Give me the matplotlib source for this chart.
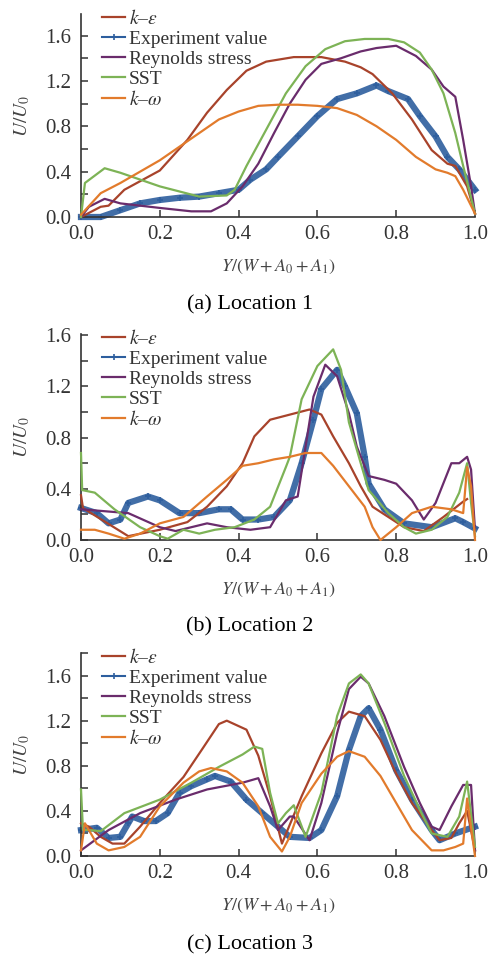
import matplotlib
matplotlib.use("Agg")
import matplotlib.pyplot as plt
from matplotlib.lines import Line2D
from matplotlib.ticker import MultipleLocator

plt.rcParams.update({
    "font.family": "serif",
    "font.serif": ["Liberation Serif", "DejaVu Serif"],
    "mathtext.fontset": "stix",
})

C_KE = "#A8432B"
C_EXP = "#2D5E9E"
C_RS = "#6A2C6C"
C_SST = "#7DB356"
C_KW = "#E27B2C"

# ── Location 1 ────────────────────────────────────────────────────────────────
A_KE_X = [0, 0.05, 0.07, 0.11, 0.2, 0.27, 0.32, 0.37, 0.42, 0.47, 0.54, 0.61, 0.67, 0.71,
          0.74, 0.79, 0.84, 0.89, 0.93, 0.95, 0.98, 1.0]
A_KE_Y = [0, 0.09, 0.10, 0.24, 0.41, 0.68, 0.92, 1.12, 1.29, 1.37, 1.41, 1.41, 1.37, 1.32,
          1.26, 1.09, 0.86, 0.59, 0.47, 0.45, 0.27, 0.03]
A_EXP_X = [0, 0.05, 0.1, 0.15, 0.2, 0.25, 0.3, 0.35, 0.4, 0.43, 0.47, 0.5, 0.55, 0.6, 0.65,
           0.7, 0.75, 0.78, 0.83, 0.86, 0.9, 0.93, 0.96, 1.0]
A_EXP_Y = [0, 0.0, 0.06, 0.12, 0.15, 0.17, 0.18, 0.21, 0.24, 0.33, 0.42, 0.53, 0.71, 0.89,
           1.04, 1.09, 1.16, 1.11, 1.04, 0.89, 0.71, 0.53, 0.42, 0.24]
A_RS_X = [0, 0.02, 0.06, 0.1, 0.2, 0.28, 0.33, 0.37, 0.41, 0.45, 0.49, 0.53, 0.57, 0.61,
          0.66, 0.71, 0.75, 0.8, 0.85, 0.89, 0.92, 0.95, 0.97, 0.99, 1.0]
A_RS_Y = [0, 0.09, 0.16, 0.12, 0.08, 0.05, 0.05, 0.12, 0.27, 0.47, 0.74, 1.0, 1.21, 1.35,
          1.40, 1.46, 1.49, 1.51, 1.42, 1.30, 1.15, 1.06, 0.68, 0.27, 0.03]
A_SST_X = [0, 0.01, 0.06, 0.1, 0.2, 0.3, 0.37, 0.39, 0.42, 0.47, 0.52, 0.57, 0.62, 0.67,
           0.72, 0.78, 0.82, 0.86, 0.89, 0.92, 0.95, 0.97, 1.0]
A_SST_Y = [0, 0.30, 0.43, 0.39, 0.27, 0.18, 0.19, 0.24, 0.45, 0.77, 1.09, 1.33, 1.48, 1.55,
           1.57, 1.57, 1.54, 1.45, 1.30, 1.09, 0.74, 0.45, 0.03]
A_KW_X = [0, 0.05, 0.1, 0.2, 0.25, 0.3, 0.35, 0.4, 0.45, 0.5, 0.55, 0.6, 0.65, 0.7, 0.75,
          0.8, 0.85, 0.9, 0.93, 0.95, 0.97, 1.0]
A_KW_Y = [0.02, 0.21, 0.30, 0.50, 0.62, 0.74, 0.86, 0.93, 0.98, 0.99, 0.99, 0.98, 0.96,
          0.90, 0.80, 0.68, 0.53, 0.42, 0.39, 0.36, 0.24, 0.03]

# ── Location 2 ────────────────────────────────────────────────────────────────
B_KE_X = [0, 0.005, 0.01, 0.12, 0.2, 0.27, 0.32, 0.37, 0.41, 0.44, 0.48, 0.53, 0.58, 0.61,
          0.64, 0.68, 0.71, 0.74, 0.78, 0.82, 0.87, 0.92, 0.97, 0.98]
B_KE_Y = [0.35, 0.25, 0.24, 0.03, 0.08, 0.14, 0.26, 0.42, 0.60, 0.81, 0.94, 0.98, 1.02,
          0.98, 0.81, 0.60, 0.42, 0.26, 0.18, 0.10, 0.07, 0.18, 0.30, 0.32]
B_EXP_X = [0, 0.04, 0.07, 0.1, 0.12, 0.17, 0.2, 0.25, 0.3, 0.35, 0.38, 0.41, 0.45, 0.49,
           0.53, 0.56, 0.59, 0.61, 0.65, 0.67, 0.7, 0.72, 0.73, 0.77, 0.82, 0.89, 0.95,
           0.97, 1.0]
B_EXP_Y = [0.25, 0.21, 0.13, 0.16, 0.29, 0.34, 0.31, 0.21, 0.21, 0.24, 0.24, 0.16, 0.16,
           0.18, 0.31, 0.60, 0.94, 1.18, 1.33, 1.20, 0.99, 0.65, 0.44, 0.24, 0.13, 0.10,
           0.17, 0.14, 0.09]
B_RS_X = [0, 0.12, 0.2, 0.24, 0.32, 0.37, 0.43, 0.48, 0.52, 0.55, 0.57, 0.59, 0.62, 0.65,
          0.68, 0.7, 0.73, 0.77, 0.8, 0.84, 0.87, 0.9, 0.94, 0.96, 0.98, 0.99, 1.0]
B_RS_Y = [0.24, 0.21, 0.10, 0.07, 0.13, 0.10, 0.08, 0.10, 0.31, 0.34, 0.73, 1.12, 1.37,
          1.28, 0.99, 0.73, 0.50, 0.47, 0.44, 0.31, 0.16, 0.29, 0.60, 0.60, 0.65, 0.55, 0.08]
B_SST_X = [0, 0.003, 0.035, 0.085, 0.15, 0.2, 0.22, 0.26, 0.3, 0.34, 0.39, 0.44, 0.48,
           0.52, 0.53, 0.56, 0.6, 0.64, 0.66, 0.68, 0.71, 0.73, 0.78, 0.82, 0.85, 0.89,
           0.93, 0.96, 0.98, 0.99, 1.0]
B_SST_Y = [0.68, 0.39, 0.37, 0.24, 0.10, 0.03, 0.01, 0.08, 0.05, 0.08, 0.10, 0.16, 0.26,
           0.57, 0.65, 1.10, 1.36, 1.49, 1.33, 0.92, 0.60, 0.39, 0.21, 0.10, 0.05, 0.08,
           0.18, 0.37, 0.60, 0.29, 0.03]
B_KW_X = [0, 0.035, 0.07, 0.11, 0.15, 0.2, 0.26, 0.32, 0.37, 0.41, 0.45, 0.49, 0.53, 0.57,
          0.61, 0.64, 0.68, 0.72, 0.74, 0.76, 0.8, 0.84, 0.89, 0.94, 0.97, 0.98, 0.99, 1.0]
B_KW_Y = [0.08, 0.08, 0.05, 0.01, 0.05, 0.13, 0.18, 0.34, 0.47, 0.58, 0.60, 0.63, 0.65,
          0.68, 0.68, 0.58, 0.42, 0.26, 0.10, 0.0, 0.10, 0.21, 0.26, 0.24, 0.21, 0.57,
          0.42, 0.0]

# ── Location 3 ────────────────────────────────────────────────────────────────
C_KE_X = [0, 0.02, 0.05, 0.08, 0.11, 0.15, 0.2, 0.26, 0.31, 0.35, 0.37, 0.42, 0.45, 0.48,
          0.51, 0.56, 0.61, 0.65, 0.68, 0.72, 0.76, 0.8, 0.84, 0.89, 0.91, 0.94, 0.96,
          0.98, 1.0]
C_KE_Y = [0.29, 0.26, 0.17, 0.11, 0.11, 0.26, 0.47, 0.70, 0.96, 1.17, 1.20, 1.12, 0.89,
          0.53, 0.11, 0.53, 0.91, 1.18, 1.28, 1.24, 1.03, 0.73, 0.47, 0.23, 0.14, 0.16,
          0.29, 0.40, 0.05]
C_EXP_X = [0, 0.04, 0.07, 0.1, 0.12, 0.13, 0.16, 0.19, 0.22, 0.25, 0.28, 0.32, 0.34, 0.38,
           0.42, 0.46, 0.5, 0.53, 0.58, 0.61, 0.65, 0.68, 0.71, 0.73, 0.76, 0.8, 0.84,
           0.89, 0.91, 0.95, 1.0]
C_EXP_Y = [0.23, 0.25, 0.16, 0.17, 0.29, 0.35, 0.31, 0.31, 0.38, 0.56, 0.62, 0.68, 0.71,
           0.66, 0.50, 0.38, 0.26, 0.17, 0.16, 0.23, 0.53, 0.94, 1.24, 1.31, 1.12, 0.76,
           0.50, 0.23, 0.14, 0.20, 0.26]
C_RS_X = [0, 0.07, 0.15, 0.24, 0.32, 0.41, 0.45, 0.48, 0.5, 0.53, 0.54, 0.58, 0.61, 0.65,
          0.68, 0.71, 0.73, 0.77, 0.82, 0.86, 0.89, 0.91, 0.94, 0.97, 0.99, 1.0]
C_RS_Y = [0.05, 0.23, 0.38, 0.50, 0.59, 0.65, 0.69, 0.44, 0.23, 0.35, 0.35, 0.14, 0.47,
          1.09, 1.48, 1.59, 1.53, 1.24, 0.79, 0.47, 0.26, 0.23, 0.44, 0.63, 0.63, 0.05]
C_SST_X = [0, 0.005, 0.02, 0.05, 0.11, 0.2, 0.28, 0.35, 0.41, 0.44, 0.46, 0.48, 0.5, 0.52,
           0.54, 0.57, 0.61, 0.65, 0.68, 0.71, 0.73, 0.77, 0.82, 0.86, 0.89, 0.93, 0.96,
           0.98, 1.0]
C_SST_Y = [0.59, 0.23, 0.23, 0.22, 0.38, 0.50, 0.65, 0.79, 0.90, 0.97, 0.95, 0.56, 0.29,
           0.38, 0.45, 0.17, 0.56, 1.24, 1.53, 1.61, 1.53, 1.18, 0.71, 0.41, 0.20, 0.17,
           0.35, 0.66, 0.08]
C_KW_X = [0, 0.01, 0.04, 0.07, 0.11, 0.15, 0.2, 0.26, 0.3, 0.33, 0.37, 0.41, 0.45, 0.48,
          0.51, 0.53, 0.56, 0.61, 0.65, 0.68, 0.72, 0.76, 0.8, 0.84, 0.89, 0.92, 0.95,
          0.97, 0.98, 1.0]
C_KW_Y = [0.05, 0.29, 0.11, 0.05, 0.08, 0.17, 0.44, 0.65, 0.75, 0.78, 0.75, 0.65, 0.44,
          0.17, 0.04, 0.17, 0.47, 0.73, 0.88, 0.93, 0.88, 0.71, 0.47, 0.23, 0.05, 0.05,
          0.08, 0.11, 0.51, 0.0]

PANELS = [
    ("(a) Location 1", 14, 217, 1.79, 305,
     [(A_KE_X, A_KE_Y), (A_EXP_X, A_EXP_Y), (A_RS_X, A_RS_Y), (A_SST_X, A_SST_Y), (A_KW_X, A_KW_Y)]),
    ("(b) Location 2", 334, 540, 1.61, 627,
     [(B_KE_X, B_KE_Y), (B_EXP_X, B_EXP_Y), (B_RS_X, B_RS_Y), (B_SST_X, B_SST_Y), (B_KW_X, B_KW_Y)]),
    ("(c) Location 3", 653, 856, 1.80, 945,
     [(C_KE_X, C_KE_Y), (C_EXP_X, C_EXP_Y), (C_RS_X, C_RS_Y), (C_SST_X, C_SST_Y), (C_KW_X, C_KW_Y)]),
]

LABELS = [r"$k$–$\varepsilon$", "Experiment value", "Reynolds stress", "SST", r"$k$–$\omega$"]
COLORS = [C_KE, C_EXP, C_RS, C_SST, C_KW]

W, H = 491, 955
fig = plt.figure(figsize=(W / 100, H / 100), dpi=100)

for caption, top, bottom, ymax, cap_y, series in PANELS:
    ax = fig.add_axes([81 / W, 1 - bottom / H, (475 - 81) / W, (bottom - top) / H])
    for i, ((xs, ys), color) in enumerate(zip(series, COLORS)):
        if i == 1:
            # experiment: dense "+" markers drawn as a thick band
            ax.plot(xs, ys, color=color, lw=4.5, marker="+", ms=5, mew=1.3,
                    alpha=0.9, zorder=2, clip_on=False)
        else:
            ax.plot(xs, ys, color=color, lw=1.6, zorder=3, clip_on=False)

    ax.set_xlim(0, 1.0)
    ax.set_ylim(0, ymax)
    ax.spines["top"].set_visible(False)
    ax.spines["right"].set_visible(False)
    for s in ("left", "bottom"):
        ax.spines[s].set_color("#333333")
        ax.spines[s].set_linewidth(1.2)
    ax.xaxis.set_major_locator(MultipleLocator(0.2))
    ax.yaxis.set_major_locator(MultipleLocator(0.4))
    ax.yaxis.set_minor_locator(MultipleLocator(0.2))
    ax.xaxis.set_major_formatter(plt.FuncFormatter(lambda v, p: f"{v:.1f}"))
    ax.yaxis.set_major_formatter(plt.FuncFormatter(lambda v, p: f"{v:.1f}"))
    ax.tick_params(which="both", direction="in", length=5, width=1.1, labelsize=15,
                   color="#333333", labelcolor="#333333")
    ax.tick_params(axis="y", pad=7)
    ax.tick_params(axis="x", pad=6)

    ax.set_xlabel(r"$Y/(W+A_0+A_1)$", fontsize=13, color="#444444")
    ax.xaxis.set_label_coords(0.5, -41 / (bottom - top))
    fig.text(22 / W, 1 - (top + bottom) / 2 / H, r"$U/U_0$", rotation=90,
             ha="center", va="center", fontsize=14, color="#444444")
    fig.text(250 / W, 1 - cap_y / H, caption, ha="center", va="center", fontsize=16)

    handles = []
    for i, color in enumerate(COLORS):
        if i == 1:
            handles.append(Line2D([], [], color=color, lw=1.5, marker="+", ms=5, mew=1.2))
        else:
            handles.append(Line2D([], [], color=color, lw=1.6))
    leg = ax.legend(handles, LABELS, loc="upper left", bbox_to_anchor=(0.053, 1.025),
                    frameon=False, fontsize=14, borderpad=0, borderaxespad=0,
                    handlelength=1.2, handletextpad=0.2, labelspacing=0.12, numpoints=1)
    for t in leg.get_texts():
        t.set_color("#333333")

fig.savefig("out.png", dpi=100)
